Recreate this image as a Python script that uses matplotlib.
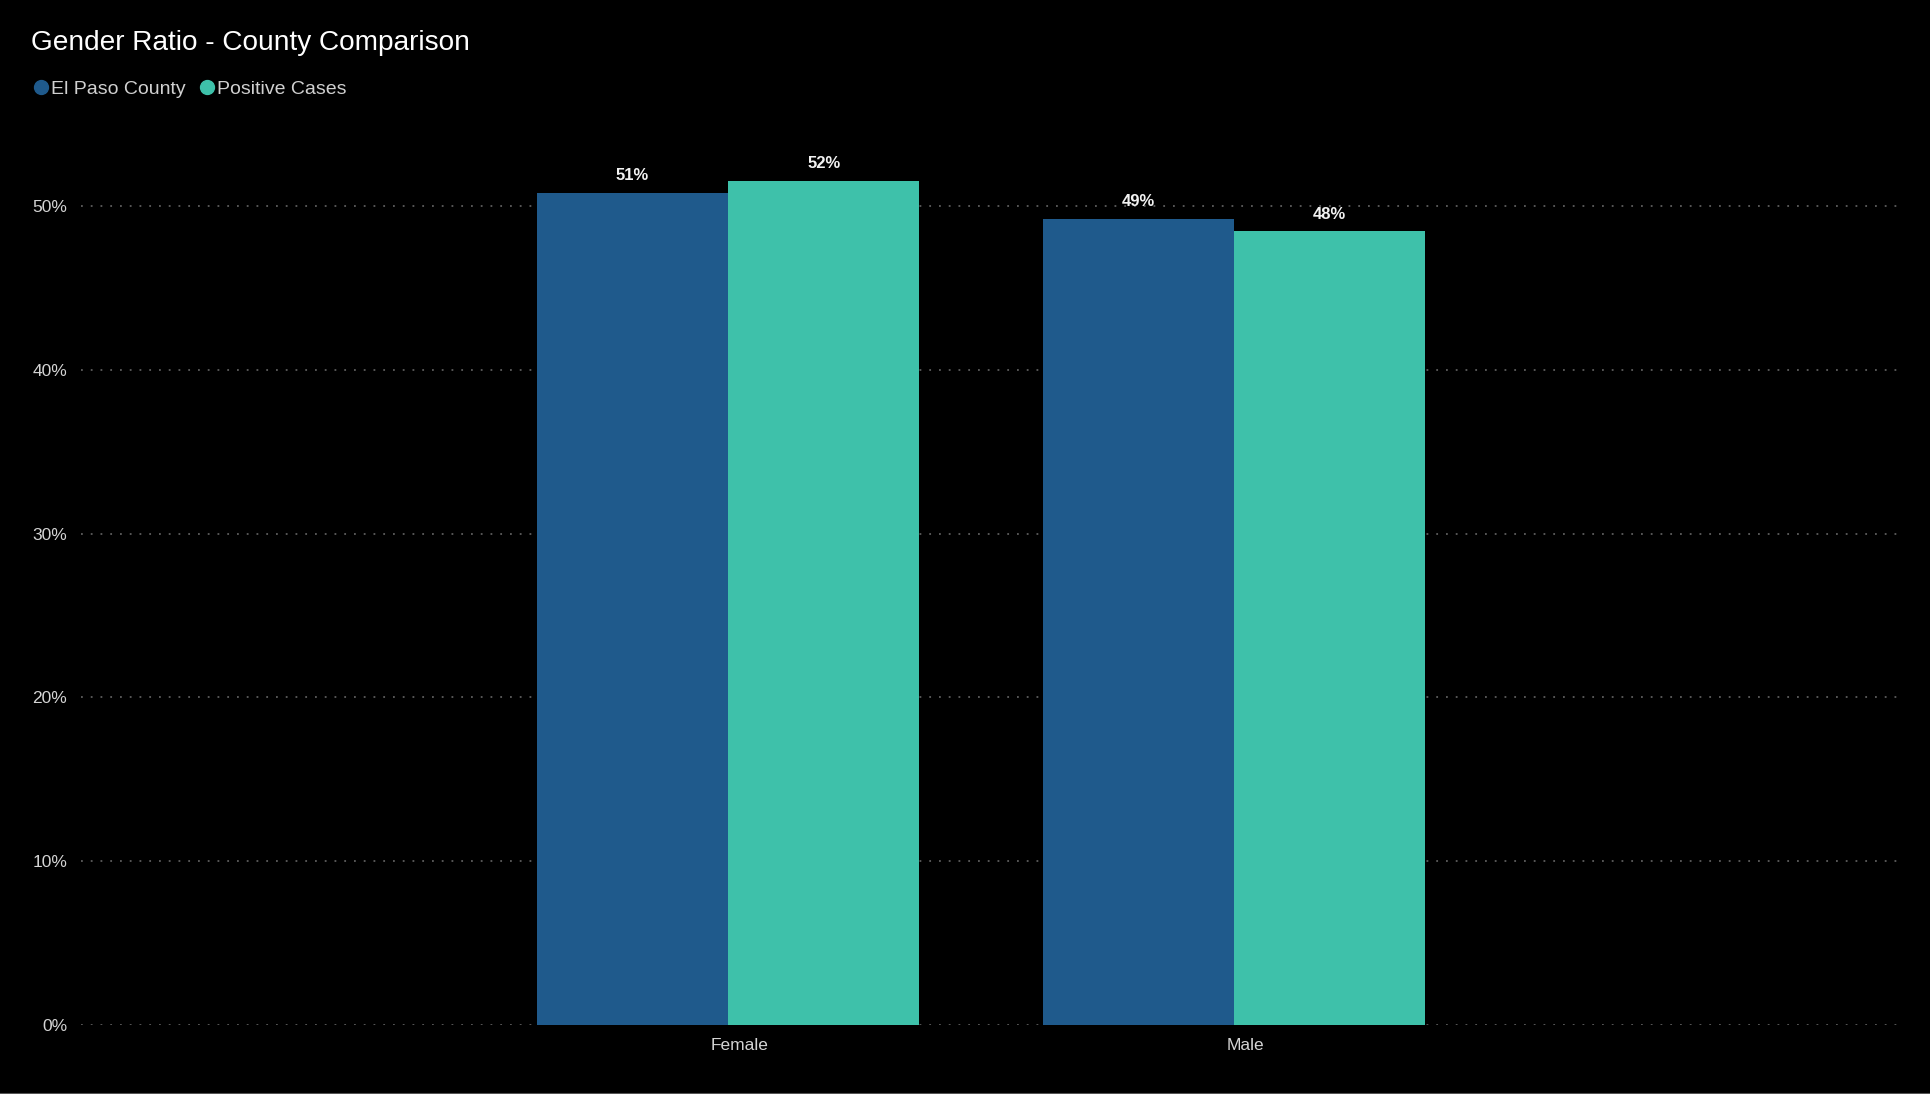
import matplotlib.pyplot as plt
import matplotlib.transforms as mtransforms
import numpy as np
from matplotlib.lines import Line2D

# data
categories = ['Female', 'Male']
series = ['El Paso County', 'Positive Cases']
el_paso = [50.8, 49.2]
positive = [51.55, 48.45]
colors = ['#1F5A8C', '#3EC1AA']

plt.rcParams['font.family'] = ['Liberation Sans', 'DejaVu Sans']

W, H = 1931, 1094
fig = plt.figure(figsize=(W / 100, H / 100), dpi=100, facecolor='black')
# axes: left 81px, right 1898px, bottom 1025px (0%), ylim 0..55
top_px = 1025 - 5.5 * 163.8
ax = fig.add_axes([81 / W, 1 - 1025 / H, (1898 - 81) / W, (1025 - top_px) / H])
ax.set_facecolor('black')

x = np.arange(len(categories))
bw = 0.378
vals = [el_paso, positive]
for i, (name, v) in enumerate(zip(series, vals)):
    pos = x + (i - 0.5) * bw
    bars = ax.bar(pos, v, width=bw, color=colors[i], label=name, zorder=3)
    for b, val in zip(bars, v):
        ax.text(b.get_x() + b.get_width() / 2, val + 0.6, f'{val:.0f}%',
                ha='center', va='bottom', color='#f2f2f2', fontsize=12,
                fontweight='bold', zorder=4)

ax.set_xlim(-1.279, 2.312)
ax.set_ylim(0, 55)
ax.set_yticks(np.arange(0, 51, 10))
ax.set_yticklabels([f'{t}%' for t in range(0, 51, 10)])
ax.set_xticks(x)
ax.set_xticklabels(categories)
ax.yaxis.grid(True, color='#5e5e5e', linestyle=(0, (1, 4.4)), linewidth=1.3, zorder=0)
ax.tick_params(axis='both', length=0, colors='#d4d4d4', labelsize=12.5)
ax.tick_params(axis='y', pad=10)
ax.tick_params(axis='x', pad=9)
# Power BI puts the category labels a little right of the group centre
shift = mtransforms.ScaledTranslation(11 / 100, 0, fig.dpi_scale_trans)
for lbl in ax.get_xticklabels():
    lbl.set_transform(lbl.get_transform() + shift)
for s in ax.spines.values():
    s.set_visible(False)

fig.text(31 / W, 1 - 43 / H, 'Gender Ratio - County Comparison', color='white',
         fontsize=20.2, va='center', ha='left')

handles = [Line2D([], [], marker='o', linestyle='none', markersize=10,
                  markerfacecolor=c, markeredgecolor=c) for c in colors]
fig.legend(handles, series, loc='center left', bbox_to_anchor=(22 / W, 1 - 89 / H),
           frameon=False, ncol=2, fontsize=14, labelcolor='#d0d0d0',
           handletextpad=-0.1, columnspacing=0.5, handlelength=1.2, borderaxespad=0)

fig.add_artist(Line2D([0, 1], [0.5 / H, 0.5 / H], color='#555555', linewidth=1.5,
                      transform=fig.transFigure))

fig.savefig('out.png', dpi=100, facecolor='black')
